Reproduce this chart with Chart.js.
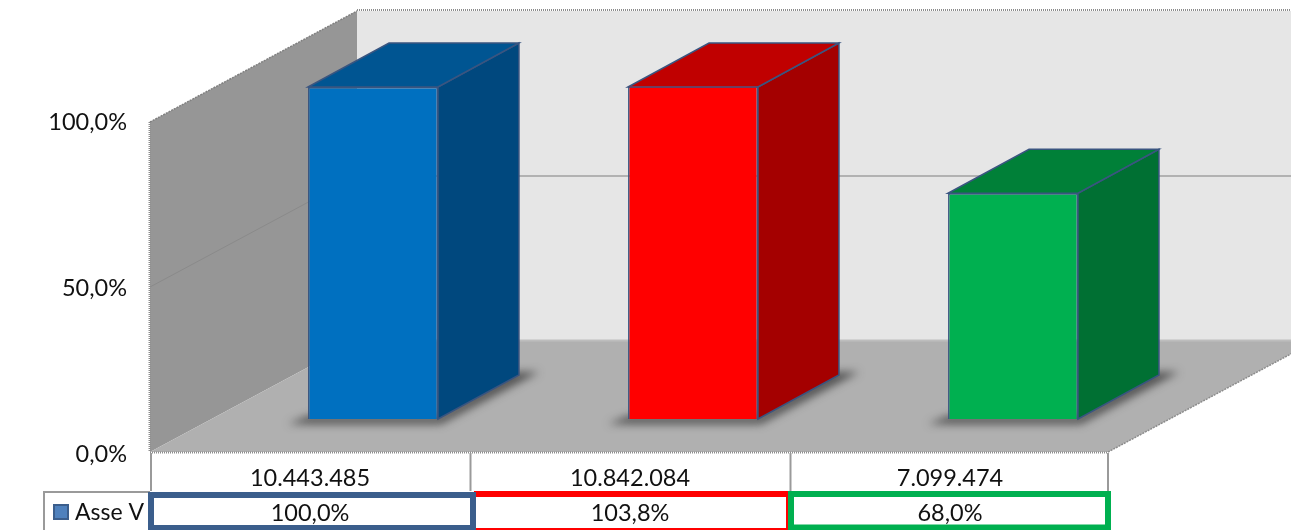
<!DOCTYPE html>
<html>
<head>
<meta charset="utf-8">
<style>html,body{margin:0;padding:0;background:#fff;overflow:hidden}canvas{display:block}</style>
<script src="https://cdn.jsdelivr.net/npm/chart.js@4"></script>
</head>
<body>
<canvas id="c" width="1291" height="530"></canvas>
<script>
const categories = ['10.443.485', '10.842.084', '7.099.474'];
const percentLabels = ['100,0%', '103,8%', '68,0%'];
const seriesValues = [100, 103.8, 68];
const seriesName = 'Asse V';
const yTickValues = [0, 50, 100];
const frontColors = ['#0070C0', '#FF0000', '#00B050'];
const topColors = ['#005592', '#C00000', '#008038'];
const sideColors = ['#00487E', '#A40000', '#007033'];
const frameColors = ['#3B5E8C', '#FF0000', '#00B050'];

const FONT = 'Lato, Carlito, Calibri, sans-serif';
const EDGE = '#3A5580';
const DX = 81, DY = 44;           // bar depth
const WDX = 207, WDY = 111;       // wall / floor depth
const WALL_L = 150, WALL_R = 1108, WALL_B = 452;

function poly(ctx, pts, fill, stroke, lw) {
  ctx.beginPath();
  pts.forEach((p, i) => i ? ctx.lineTo(p[0], p[1]) : ctx.moveTo(p[0], p[1]));
  ctx.closePath();
  if (fill) { ctx.fillStyle = fill; ctx.fill(); }
  if (stroke) { ctx.strokeStyle = stroke; ctx.lineWidth = lw || 1; ctx.stroke(); }
}
function seg(ctx, x1, y1, x2, y2, color, lw, dash) {
  ctx.beginPath();
  ctx.setLineDash(dash || []);
  ctx.moveTo(x1, y1); ctx.lineTo(x2, y2);
  ctx.strokeStyle = color; ctx.lineWidth = lw; ctx.stroke();
  ctx.setLineDash([]);
}

const scene = {
  id: 'scene',
  beforeDatasetsDraw(chart) {
    const ctx = chart.ctx, y = chart.scales.y;
    const y0 = y.getPixelForValue(0);
    const k = 330 / (y0 - y.getPixelForValue(100));
    const wallY = v => WALL_B - (y0 - y.getPixelForValue(v)) * k;
    const T = wallY(100), W = chart.width;
    ctx.save();
    // back wall
    poly(ctx, [[WALL_L + WDX, T - WDY], [W, T - WDY], [W, WALL_B - WDY], [WALL_L + WDX, WALL_B - WDY]], '#E6E6E6');
    // side wall
    poly(ctx, [[WALL_L, T], [WALL_L + WDX, T - WDY], [WALL_L + WDX, WALL_B - WDY], [WALL_L, WALL_B]], '#969696');
    // floor
    poly(ctx, [[WALL_L, WALL_B], [WALL_R, WALL_B], [WALL_R + WDX, WALL_B - WDY], [WALL_L + WDX, WALL_B - WDY]], '#B0B0B0');
    seg(ctx, WALL_L + WDX, WALL_B - WDY - 0.5, W, WALL_B - WDY - 0.5, '#BDBDBD', 2);
    // grid lines on the walls
    yTickValues.filter(v => v > 0 && v < 100).forEach(v => {
      const p = wallY(v);
      seg(ctx, WALL_L, p, WALL_L + WDX, p - WDY, '#8A8A8A', 1);
      seg(ctx, WALL_L + WDX, p - WDY, W, p - WDY, '#B2B2B2', 2);
    });
    // rough outer edges
    seg(ctx, WALL_L + WDX, T - WDY - 1, W, T - WDY - 1, '#8C8C8C', 2, [1, 1]);
    seg(ctx, WALL_L - 0.5, T, WALL_L - 0.5, WALL_B, '#8C8C8C', 2, [1, 1]);
    seg(ctx, WALL_L, WALL_B + 0.5, WALL_R, WALL_B + 0.5, '#8C8C8C', 2, [1, 1]);
    seg(ctx, WALL_L, T, WALL_L + WDX, T - WDY, '#808080', 1.5, [2, 1]);
    seg(ctx, WALL_R, WALL_B, WALL_R + WDX, WALL_B - WDY, '#8C8C8C', 1.5, [2, 1]);
    // shadows and the 3D faces of each bar
    const meta = chart.getDatasetMeta(0);
    meta.data.forEach((bar, i) => {
      const hw = bar.width / 2, l = bar.x - hw, r = bar.x + hw;
      const b = y.getPixelForValue(0);
      const t = y.getPixelForValue(Math.min(seriesValues[i], y.max));
      ctx.save();
      ctx.filter = 'blur(4px)';
      poly(ctx, [[l - 20, b + 5], [r + 3, b + 5], [r + DX + 20, b - DY - 3], [r + DX - 6, b - DY - 3], [r, b - 3], [l, b - 3]], 'rgba(50,50,50,0.75)');
      ctx.restore();
      poly(ctx, [[r, b], [r + DX, b - DY], [r + DX, t - DY], [r, t]], sideColors[i], EDGE, 1.5);
      poly(ctx, [[l, t], [l + DX, t - DY], [r + DX, t - DY], [r, t]], topColors[i], EDGE, 1.5);
    });
    ctx.restore();
  },
  afterDatasetsDraw(chart) {
    // the top edge of a bar that runs past the axis maximum
    const ctx = chart.ctx, y = chart.scales.y;
    chart.getDatasetMeta(0).data.forEach((bar, i) => {
      if (seriesValues[i] > y.max) {
        const t = y.getPixelForValue(y.max);
        seg(ctx, bar.x - bar.width / 2, t, bar.x + bar.width / 2, t, EDGE, 1.5);
      }
    });
  },
  afterDraw(chart) {
    const ctx = chart.ctx;
    ctx.save();
    // table column rules
    [151, 470.5, 790.5, 1108].forEach(x => seg(ctx, x, 453, x, 491, '#9A9A9A', 2));
    // legend cell
    ctx.strokeStyle = '#9A9A9A'; ctx.lineWidth = 2;
    ctx.beginPath(); ctx.moveTo(44, 531); ctx.lineTo(44, 492); ctx.lineTo(150, 492); ctx.stroke();
    ctx.fillStyle = '#4F81BD'; ctx.fillRect(54, 505, 14, 14);
    ctx.strokeStyle = '#3B5E8C'; ctx.lineWidth = 2; ctx.strokeRect(54, 505, 14, 14);
    ctx.fillStyle = '#111'; ctx.font = '23px ' + FONT; ctx.textAlign = 'left'; ctx.textBaseline = 'middle';
    ctx.fillText(seriesName, 75, 513);
    // red cell: thick top band, thin right and bottom edges
    ctx.fillStyle = frameColors[1];
    ctx.fillRect(474, 491, 316, 6);
    ctx.fillRect(786, 491, 2, 39);
    ctx.fillRect(474, 528, 314, 2);
    // blue and green frames
    ctx.strokeStyle = frameColors[0]; ctx.lineWidth = 6;
    ctx.strokeRect(151, 495, 322, 33);
    ctx.strokeStyle = frameColors[2];
    ctx.strokeRect(791, 494, 317, 33.5);
    ctx.restore();
  }
};

new Chart(document.getElementById('c'), {
  type: 'bar',
  data: {
    labels: categories.map((c, i) => [c, percentLabels[i]]),
    datasets: [{
      label: seriesName,
      data: seriesValues,
      backgroundColor: frontColors,
      borderColor: EDGE,
      borderWidth: 1.5,
      barPercentage: 0.406,
      categoryPercentage: 1,
      clip: 1
    }]
  },
  options: {
    responsive: false,
    animation: false,
    events: [],
    layout: { padding: { top: 87, right: 118, left: 0, bottom: 0 } },
    plugins: { legend: { display: false }, title: { display: false }, tooltip: { enabled: false } },
    scales: {
      x: {
        grid: { display: false, drawTicks: false },
        border: { display: false },
        afterFit(s) { s.height = 111; s.paddingLeft = 0; s.paddingRight = 0; },
        ticks: {
          autoSkip: false, maxRotation: 0, minRotation: 0,
          labelOffset: -63, padding: 42, color: '#111',
          font: { family: FONT, size: 23.5, lineHeight: '35px' }
        }
      },
      y: {
        min: 0, max: 100,
        grid: { display: false, drawTicks: false },
        border: { display: false },
        afterFit(s) { s.width = 213; s.paddingTop = 0; s.paddingBottom = 0; },
        afterBuildTicks(s) { s.ticks = yTickValues.map(v => ({ value: v })); },
        ticks: {
          labelOffset: 35, padding: 86, color: '#111',
          font: { family: FONT, size: 23.5 },
          callback: v => v.toFixed(1).replace('.', ',') + '%'
        }
      }
    }
  },
  plugins: [scene]
});
</script>
</body>
</html>
